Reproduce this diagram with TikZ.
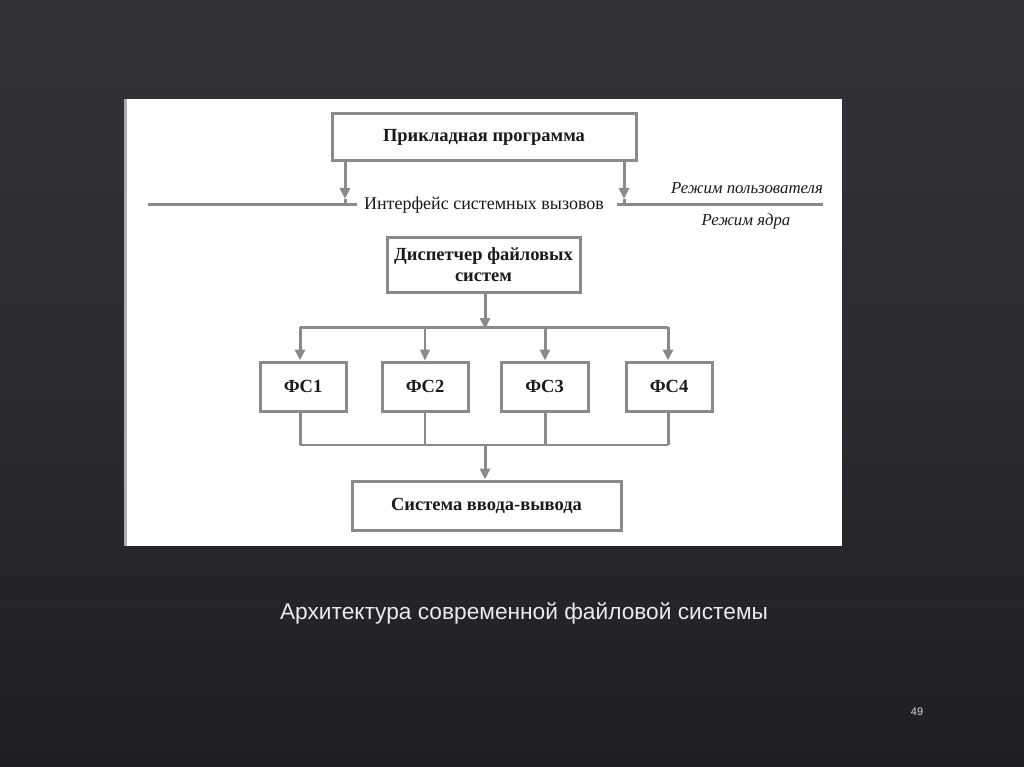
\documentclass[tikz,border=0pt]{standalone}
\usepackage{fontspec}
\setmainfont{Liberation Serif}
\newfontfamily\capfont{Liberation Sans}
\usetikzlibrary{arrows.meta}
\definecolor{bgtop}{HTML}{313339}
\definecolor{bgmid}{HTML}{2A2C31}
\definecolor{bgbot}{HTML}{1E1F22}
\definecolor{ln}{HTML}{8A8A8A}
\definecolor{txt}{HTML}{1A1A1A}
\tikzset{
  box/.style={draw=ln, line width=3pt, fill=white, inner sep=0pt, font=\bfseries\fontsize{18.5}{22}\selectfont, text=txt},
  conn/.style={draw=ln, line width=3pt},
  thin/.style={draw=ln, line width=1.5pt},
  arr/.style={-{Triangle[width=10pt,length=11pt]}},
  lab/.style={font=\fontsize{18}{20}\selectfont, text=txt, inner sep=0pt},
  mode/.style={font=\itshape\fontsize{16.8}{19}\selectfont, text=txt, inner sep=0pt}
}
\begin{document}
\begin{tikzpicture}[x=1pt,y=-1pt]
\useasboundingbox (0,0) rectangle (1024,767);
\shade[top color=bgtop, bottom color=bgbot, middle color=bgmid] (0,0) rectangle (1024,767);
% panel
\fill[white] (124,99) rectangle (842,546);
\draw[ln!70, line width=3pt] (125.5,99) -- (125.5,546);
% top box
\node[box, minimum width=304pt, minimum height=47pt] (app) at (484,137.5) {Прикладная программа};
\coordinate (aL) at (345,160);
\coordinate (aR) at (624,160);
\coordinate (iL) at (345,199);
\coordinate (iR) at (624,199);
\draw[conn, arr] (aL) -- (iL);
\draw[conn, arr] (aR) -- (iR);
% interface line
\node[lab] (ifc) at (484,205) {Интерфейс системных вызовов};
\coordinate (l0) at (148,205);
\coordinate (l1) at (823,205);
\coordinate (g0) at (357,205);
\coordinate (g1) at (617,205);
\draw[conn] (l0) -- (g0);
\draw[conn] (g1) -- (l1);
\draw[conn] (iL) -- (iL |- l0);
\draw[conn] (iR) -- (iR |- l0);
\node[mode, anchor=east] (um) at (823,188) {Режим пользователя};
\node[mode] (km) at (746,221) {Режим ядра};
% dispatcher
\node[box, minimum width=193pt, minimum height=55pt, align=center] (disp) at (483.5,264.5) {Диспетчер файловых\\[-1pt]систем};
\coordinate (bus) at (485,327);
\draw[conn] (disp.south -| bus) -- (bus);
\draw[conn, arr] (disp.south -| bus) -- ([yshift=-2pt]bus);
\draw[conn] (300,327) -- (668,327);
% FS boxes
\node[box, minimum width=86pt, minimum height=49pt] (fs1) at (303,386.5) {ФС1};
\node[box, minimum width=86pt, minimum height=49pt] (fs2) at (425,386.5) {ФС2};
\node[box, minimum width=87pt, minimum height=49pt] (fs3) at (544.5,386.5) {ФС3};
\node[box, minimum width=86pt, minimum height=49pt] (fs4) at (669,386.5) {ФС4};
\coordinate (t1) at (300,327);
\coordinate (t2) at (425,327);
\coordinate (t3) at (545,327);
\coordinate (t4) at (668,327);
\draw[conn, arr] (t1) -- (t1 |- fs1.north);
\draw[thin, arr] (t2) -- (t2 |- fs2.north);
\draw[conn, arr] (t3) -- (t3 |- fs3.north);
\draw[conn, arr] (t4) -- (t4 |- fs4.north);
% bottom bus
\coordinate (b1) at (300,445);
\coordinate (b2) at (425,445);
\coordinate (b3) at (545,445);
\coordinate (b4) at (668,445);
\draw[conn] (b1 |- fs1.south) -- (b1);
\draw[thin] (b2 |- fs2.south) -- (b2);
\draw[conn] (b3 |- fs3.south) -- (b3);
\draw[conn] (b4 |- fs4.south) -- (b4);
\draw[draw=ln, line width=2pt] (b1) -- (b4);
% io box
\node[box, minimum width=269pt, minimum height=49pt] (io) at (486.5,505.5) {Система ввода-вывода};
\coordinate (bc) at (485,445);
\draw[conn, arr] (bc) -- (bc |- io.north);
% caption
\node[font=\capfont\fontsize{22.7}{26}\selectfont, text=white!92!black, inner sep=0pt] (cap) at (524,613) {Архитектура современной файловой системы};
\node[font=\capfont\fontsize{11}{13}\selectfont, text=white!85!black, inner sep=0pt] (pg) at (917,712) {49};
\end{tikzpicture}
\end{document}
